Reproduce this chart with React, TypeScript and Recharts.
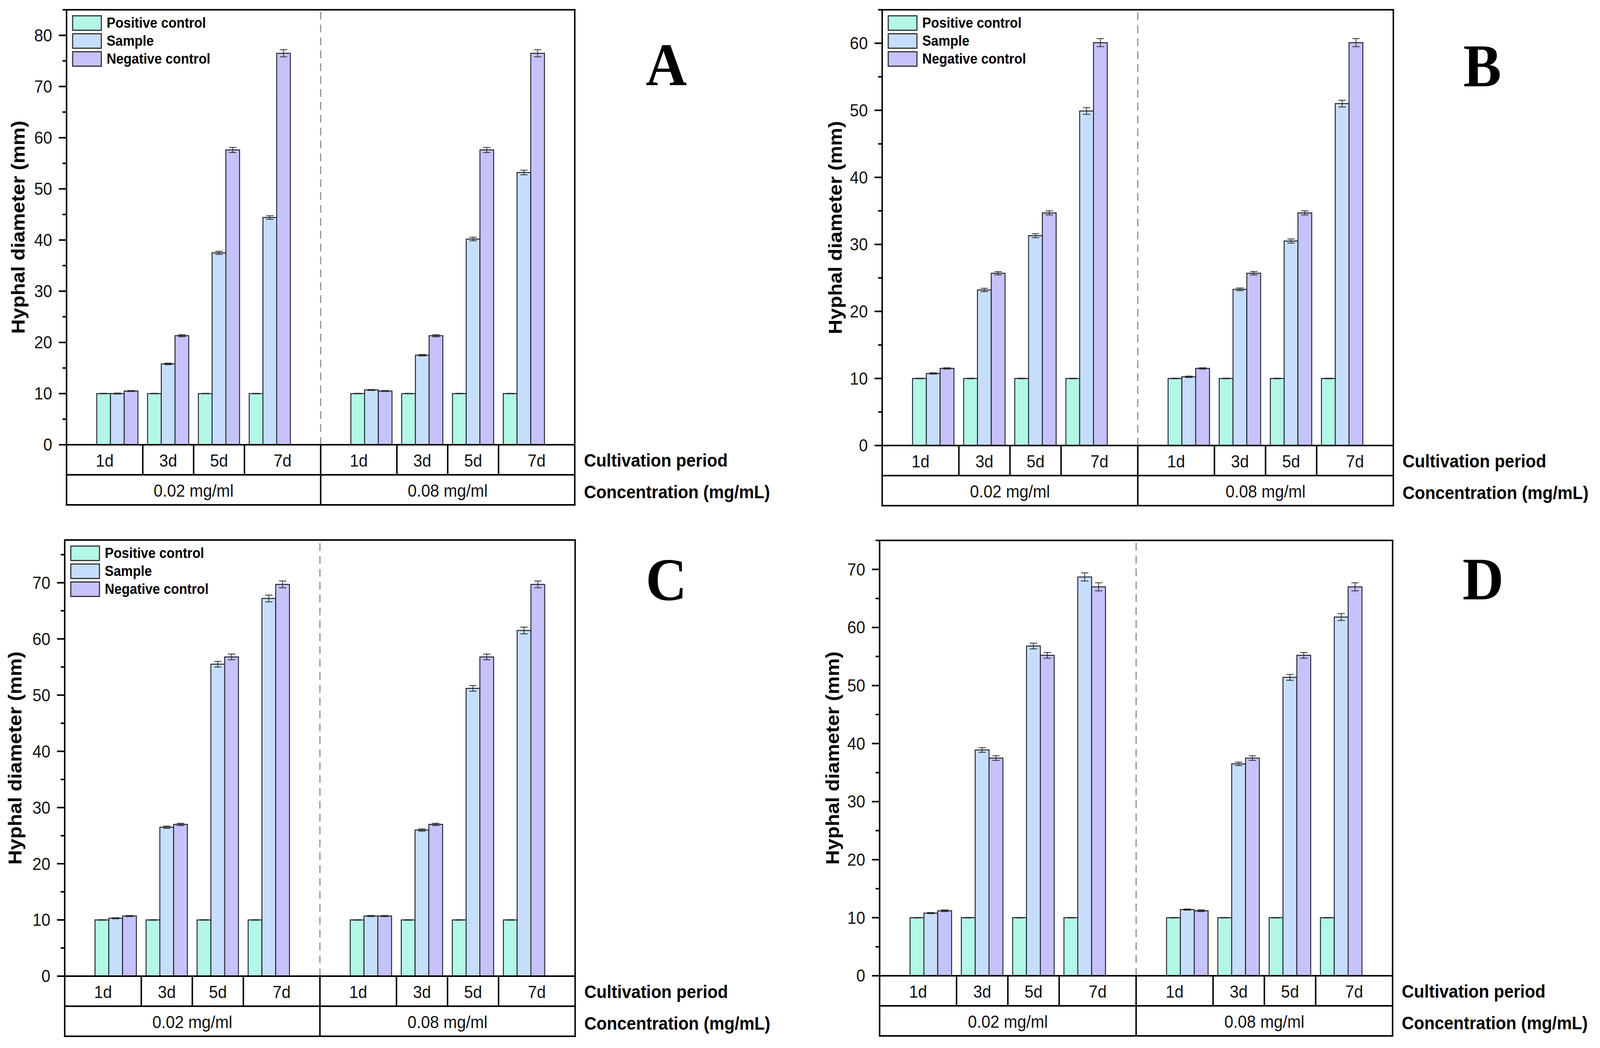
import React from 'react';
import { BarChart, Bar, XAxis, YAxis, ErrorBar, ReferenceLine, Legend, Label } from 'recharts';

// ---------- shared categories ----------
const xPositions = [1, 2, 3, 4, 6, 7, 8, 9];
const periodLabels = ['1d', '3d', '5d', '7d', '1d', '3d', '5d', '7d'];
const periodLabelPositions = [0.75, 2, 3, 4.25, 5.75, 7, 8, 9.25];
const cellBoundaries = [0, 1.5, 2.5, 3.5, 5, 6.5, 7.5, 8.5, 10];
const concentrationLabels = ['0.02 mg/ml', '0.08 mg/ml'];
const concentrationPositions = [2.5, 7.5];
const seriesNames = ['Positive control', 'Sample', 'Negative control'];
const barAxisTicks = [0, 1, 2, 3, 4, 5, 6, 7, 8, 9, 10];

// ---------- panel A ----------
const positiveA = [10, 10, 10, 10, 10, 10, 10, 10];
const sampleA = [10.0, 15.8, 37.5, 44.4, 10.7, 17.5, 40.2, 53.2];
const negativeA = [10.5, 21.3, 57.6, 76.5, 10.5, 21.3, 57.6, 76.5];
const positiveErrA = [0.05, 0.05, 0.05, 0.05, 0.05, 0.05, 0.05, 0.05];
const sampleErrA = [0.1, 0.15, 0.3, 0.35, 0.1, 0.15, 0.35, 0.45];
const negativeErrA = [0.1, 0.2, 0.5, 0.7, 0.1, 0.2, 0.5, 0.7];
const yTicksA = [0, 5, 10, 15, 20, 25, 30, 35, 40, 45, 50, 55, 60, 65, 70, 75, 80, 85];

// ---------- panel B ----------
const positiveB = [10, 10, 10, 10, 10, 10, 10, 10];
const sampleB = [10.75, 23.2, 31.3, 49.9, 10.25, 23.3, 30.5, 51.0];
const negativeB = [11.5, 25.7, 34.7, 60.1, 11.5, 25.7, 34.7, 60.1];
const positiveErrB = [0.05, 0.05, 0.05, 0.05, 0.05, 0.05, 0.05, 0.05];
const sampleErrB = [0.1, 0.25, 0.3, 0.5, 0.1, 0.2, 0.3, 0.5];
const negativeErrB = [0.1, 0.25, 0.3, 0.6, 0.1, 0.25, 0.3, 0.6];
const yTicksB = [0, 5, 10, 15, 20, 25, 30, 35, 40, 45, 50, 55, 60, 65];

// ---------- panel C ----------
const positiveC = [10, 10, 10, 10, 10, 10, 10, 10];
const sampleC = [10.3, 26.5, 55.5, 67.2, 10.7, 26.0, 51.2, 61.5];
const negativeC = [10.7, 27.0, 56.8, 69.7, 10.7, 27.0, 56.8, 69.7];
const positiveErrC = [0.05, 0.05, 0.05, 0.05, 0.05, 0.05, 0.05, 0.05];
const sampleErrC = [0.1, 0.2, 0.5, 0.6, 0.1, 0.2, 0.5, 0.6];
const negativeErrC = [0.1, 0.2, 0.5, 0.6, 0.1, 0.2, 0.5, 0.6];
const yTicksC = [0, 5, 10, 15, 20, 25, 30, 35, 40, 45, 50, 55, 60, 65, 70, 75];

// ---------- panel D ----------
const positiveD = [10, 10, 10, 10, 10, 10, 10, 10];
const sampleD = [10.8, 38.9, 56.8, 68.7, 11.4, 36.5, 51.4, 61.8];
const negativeD = [11.2, 37.5, 55.2, 67.0, 11.2, 37.5, 55.2, 67.0];
const positiveErrD = [0.05, 0.05, 0.05, 0.05, 0.05, 0.05, 0.05, 0.05];
const sampleErrD = [0.1, 0.4, 0.5, 0.7, 0.1, 0.3, 0.5, 0.6];
const negativeErrD = [0.15, 0.4, 0.5, 0.7, 0.15, 0.4, 0.5, 0.7];
const yTicksD = [0, 5, 10, 15, 20, 25, 30, 35, 40, 45, 50, 55, 60, 65, 70, 75];

// ---------- styling ----------
const PAGE_W = 4351;
const PAGE_H = 2684;
const SANS = '"Liberation Sans", Arial, Helvetica, sans-serif';
const SERIF = '"Liberation Serif", "Times New Roman", serif';
const COLORS = ['#B3F7E6', '#C6DEFB', '#C6C2FA'];
const BAR_STROKE = '#1e2230';
const ROW_H = 77;
const Y_AXIS_W = 175;
const X_AXIS_H = 175;
const TOP_PAD = 6;
const RIGHT_PAD = 560;

const panels = [
  {
    letter: 'A', positive: positiveA, sample: sampleA, negative: negativeA,
    positiveErr: positiveErrA, sampleErr: sampleErrA, negativeErr: negativeErrA,
    yTicks: yTicksA, yMax: 85,
    plotLeft: 181, plotRight: 1563, plotTop: 25, plotBottom: 1139,
    legend: true, letterX: 1812, letterY: 218, yLabelOffset: 114,
  },
  {
    letter: 'B', positive: positiveB, sample: sampleB, negative: negativeB,
    positiveErr: positiveErrB, sampleErr: sampleErrB, negativeErr: negativeErrB,
    yTicks: yTicksB, yMax: 65,
    plotLeft: 2399, plotRight: 3789, plotTop: 25, plotBottom: 1141,
    legend: true, letterX: 4031, letterY: 221, yLabelOffset: 110,
  },
  {
    letter: 'C', positive: positiveC, sample: sampleC, negative: negativeC,
    positiveErr: positiveErrC, sampleErr: sampleErrC, negativeErr: negativeErrC,
    yTicks: yTicksC, yMax: 77.6,
    plotLeft: 176, plotRight: 1564, plotTop: 1383, plotBottom: 2500,
    legend: true, letterX: 1812, letterY: 1536, yLabelOffset: 118,
  },
  {
    letter: 'D', positive: positiveD, sample: sampleD, negative: negativeD,
    positiveErr: positiveErrD, sampleErr: sampleErrD, negativeErr: negativeErrD,
    yTicks: yTicksD, yMax: 75,
    plotLeft: 2392, plotRight: 3787, plotTop: 1384, plotBottom: 2499,
    legend: false, letterX: 4033, letterY: 1535, yLabelOffset: 110,
  },
];

const YTick = (props: any) => {
  const { x, y, payload } = props;
  const v = payload.value;
  const major = v % 10 === 0;
  return (
    <g>
      <line x1={x - (major ? 21 : 11)} x2={x} y1={y} y2={y} stroke="#000" strokeWidth={4} />
      {major && (
        <text x={x - 39} y={y} textAnchor="end" dominantBaseline="central" fontSize={44} fontFamily={SANS} fill="#111">
          {v}
        </text>
      )}
    </g>
  );
};

const makeTableTick = (plotW: number) => (props: any) => {
  const { x, y, payload } = props;
  const v = payload.value;
  const els: any[] = [];
  if (cellBoundaries.indexOf(v) >= 0) {
    const full = v === 0 || v === 5 || v === 10;
    els.push(
      <line key="v" x1={x} x2={x} y1={y} y2={y + (full ? 2 : 1) * ROW_H + 2} stroke="#000" strokeWidth={4} />
    );
  }
  if (v === 0) {
    els.push(<line key="h1" x1={x - 2} x2={x + plotW + 2} y1={y + ROW_H} y2={y + ROW_H} stroke="#000" strokeWidth={4} />);
    els.push(<line key="h2" x1={x - 2} x2={x + plotW + 2} y1={y + 2 * ROW_H} y2={y + 2 * ROW_H} stroke="#000" strokeWidth={4} />);
  }
  const pi = periodLabelPositions.indexOf(v);
  if (pi >= 0) {
    els.push(
      <text key="p" x={x} y={y + ROW_H / 2 + 2} textAnchor="middle" dominantBaseline="central" fontSize={44} fontFamily={SANS} fill="#111">
        {periodLabels[pi]}
      </text>
    );
  }
  const ci = concentrationPositions.indexOf(v);
  if (ci >= 0) {
    els.push(
      <text key="c" x={x} y={y + 1.5 * ROW_H + 2} textAnchor="middle" dominantBaseline="central" fontSize={44} fontFamily={SANS} fill="#111">
        {concentrationLabels[ci]}
      </text>
    );
  }
  if (v === 10) {
    els.push(
      <text key="r1" x={x + 25} y={y + ROW_H / 2 + 2} textAnchor="start" dominantBaseline="central" fontSize={46} fontWeight="bold" fontFamily={SANS} fill="#000">
        Cultivation period
      </text>
    );
    els.push(
      <text key="r2" x={x + 25} y={y + 1.5 * ROW_H + 6} textAnchor="start" dominantBaseline="central" fontSize={46} fontWeight="bold" fontFamily={SANS} fill="#000">
        Concentration (mg/mL)
      </text>
    );
  }
  return <g>{els}</g>;
};

const tableTicks = Array.from(new Set([...cellBoundaries, ...periodLabelPositions, ...concentrationPositions])).sort((a, b) => a - b);

const legendOrder = (item: any) => seriesNames.indexOf(item && item.value);

const renderLegend = (props: any) => {
  const payload = [...(props.payload || [])].sort(
    (a: any, b: any) => seriesNames.indexOf(a.value) - seriesNames.indexOf(b.value)
  );
  return (
    <div>
      {payload.map((e: any, i: number) => (
        <div key={i} style={{ display: 'flex', alignItems: 'center', height: 46 }}>
          <div
            style={{
              width: 81,
              height: 40,
              boxSizing: 'border-box',
              background: e.color,
              border: '3px solid #333',
            }}
          />
          <span
            style={{
              marginLeft: 13,
              fontFamily: SANS,
              fontWeight: 'bold',
              fontSize: 36,
              color: '#000',
              whiteSpace: 'nowrap',
              lineHeight: '40px',
            }}
          >
            {e.value}
          </span>
        </div>
      ))}
    </div>
  );
};

const Panel = ({ p }: { p: any }) => {
  const cx = p.plotLeft - Y_AXIS_W;
  const cy = p.plotTop - TOP_PAD;
  const plotW = p.plotRight - p.plotLeft;
  const plotH = p.plotBottom - p.plotTop;
  const width = plotW + Y_AXIS_W + RIGHT_PAD;
  const height = TOP_PAD + plotH + X_AXIS_H + 10;
  const barW = (plotW / 10) * 0.27;
  const data = xPositions.map((x, i) => ({
    x,
    pos: p.positive[i],
    sample: p.sample[i],
    neg: p.negative[i],
    posErr: p.positiveErr[i],
    sampleErr: p.sampleErr[i],
    negErr: p.negativeErr[i],
  }));
  const yLabelContent = (lp: any) => {
    const vb = lp.viewBox || {};
    const lx = vb.x + vb.width - p.yLabelOffset;
    const ly = vb.y + vb.height / 2;
    return (
      <text
        x={lx}
        y={ly}
        transform={`rotate(-90, ${lx}, ${ly})`}
        textAnchor="middle"
        fontSize={52}
        fontWeight="bold"
        fontFamily={SANS}
        fill="#000"
      >
        Hyphal diameter (mm)
      </text>
    );
  };
  return (
    <div style={{ position: 'absolute', left: cx, top: cy }}>
      <BarChart
        width={width}
        height={height}
        data={data}
        margin={{ top: TOP_PAD, right: RIGHT_PAD, bottom: 10, left: 0 }}
        barGap={0}
      >
        <XAxis
          xAxisId="bars"
          dataKey="x"
          type="number"
          domain={[0, 10]}
          ticks={barAxisTicks}
          height={0}
          hide
        />
        <XAxis
          xAxisId="table"
          dataKey="x"
          type="number"
          domain={[0, 10]}
          allowDataOverflow
          ticks={tableTicks}
          interval={0}
          height={X_AXIS_H}
          tickLine={false}
          tickSize={0}
          tickMargin={0}
          axisLine={{ stroke: '#000', strokeWidth: 4 }}
          tick={makeTableTick(plotW)}
        />
        <YAxis
          type="number"
          domain={[0, p.yMax]}
          ticks={p.yTicks}
          interval={0}
          width={Y_AXIS_W}
          tickLine={false}
          tickSize={0}
          tickMargin={0}
          axisLine={{ stroke: '#000', strokeWidth: 4 }}
          tick={YTick}
        >
          <Label content={yLabelContent} />
        </YAxis>
        {p.legend && (
          <Legend
            layout="vertical"
            align="center"
            verticalAlign="middle"
            itemSorter={legendOrder as any}
            content={renderLegend}
            wrapperStyle={{ left: Y_AXIS_W + 15, top: TOP_PAD + 11, width: 'auto', height: 'auto' }}
          />
        )}
        <ReferenceLine xAxisId="bars" x={5} stroke="#8a8a8a" strokeWidth={3} strokeDasharray="20 13" />
        <Bar xAxisId="bars" dataKey="pos" name={seriesNames[0]} fill={COLORS[0]} stroke={BAR_STROKE} strokeWidth={2.5} barSize={barW} isAnimationActive={false}>
          <ErrorBar dataKey="posErr" width={10} stroke="#2b2b2b" strokeWidth={2} direction="y" />
        </Bar>
        <Bar xAxisId="bars" dataKey="sample" name={seriesNames[1]} fill={COLORS[1]} stroke={BAR_STROKE} strokeWidth={2.5} barSize={barW} isAnimationActive={false}>
          <ErrorBar dataKey="sampleErr" width={10} stroke="#2b2b2b" strokeWidth={2} direction="y" />
        </Bar>
        <Bar xAxisId="bars" dataKey="neg" name={seriesNames[2]} fill={COLORS[2]} stroke={BAR_STROKE} strokeWidth={2.5} barSize={barW} isAnimationActive={false}>
          <ErrorBar dataKey="negErr" width={10} stroke="#2b2b2b" strokeWidth={2} direction="y" />
        </Bar>
        <ReferenceLine xAxisId="bars" y={p.yMax} stroke="#000" strokeWidth={4} strokeLinecap="square" />
        <ReferenceLine xAxisId="bars" x={10} stroke="#000" strokeWidth={4} strokeLinecap="square" />
      </BarChart>
    </div>
  );
};

const getFit = () => {
  if (typeof window === 'undefined') return { sx: 1, sy: 1, w: PAGE_W, h: PAGE_H };
  const w = window.innerWidth || PAGE_W;
  const h = window.innerHeight || PAGE_H;
  return { sx: w / PAGE_W, sy: h / PAGE_H, w, h };
};

export default function App() {
  const [fit, setFit] = React.useState(getFit);
  React.useEffect(() => {
    const onResize = () => setFit(getFit());
    window.addEventListener('resize', onResize);
    return () => window.removeEventListener('resize', onResize);
  }, []);
  return (
    <div style={{ position: 'fixed', left: 0, top: 0, width: fit.w, height: fit.h, overflow: 'hidden', background: '#fff' }}>
      <div
        style={{
          position: 'absolute',
          left: 0,
          top: 0,
          width: PAGE_W,
          height: PAGE_H,
          transform: `scale(${fit.sx}, ${fit.sy})`,
          transformOrigin: '0 0',
          background: '#fff',
        }}
      >
        {panels.map((p) => (
          <Panel key={p.letter} p={p} />
        ))}
        <svg width={PAGE_W} height={PAGE_H} style={{ position: 'absolute', left: 0, top: 0, pointerEvents: 'none' }}>
          {panels.map((p) => (
            <text key={p.letter} x={p.letterX} y={p.letterY} textAnchor="middle" fontFamily={SERIF} fontWeight="bold" fontSize={155} fill="#000">
              {p.letter}
            </text>
          ))}
        </svg>
      </div>
    </div>
  );
}
